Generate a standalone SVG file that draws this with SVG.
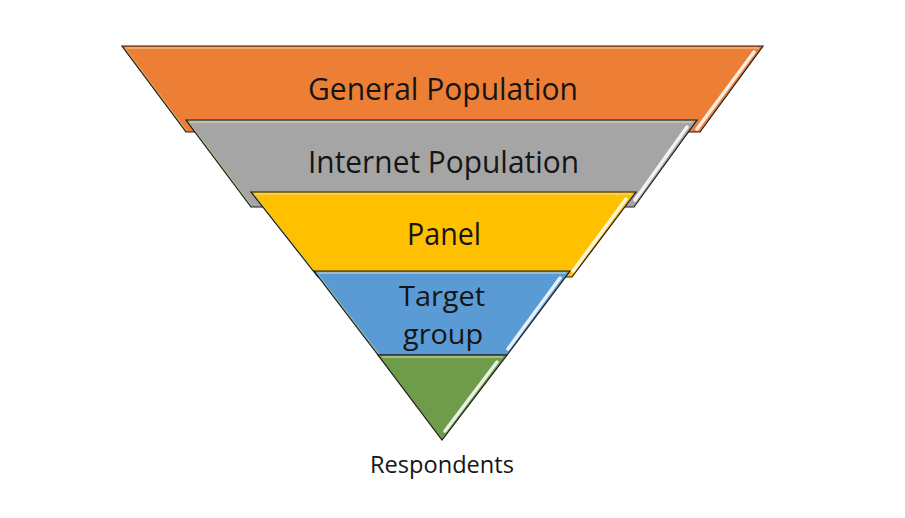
<svg xmlns="http://www.w3.org/2000/svg" width="905" height="518" viewBox="0 0 905 518">
  <style>
    .layer { stroke: #1c1c1c; stroke-width: 1.2; stroke-linejoin: miter; }
    .hl { fill: none; stroke: #ffffff; stroke-opacity: 0.85; stroke-width: 3.5; stroke-linecap: round; }
    .top { fill: none; stroke: #f3e3b8; stroke-opacity: 0.85; stroke-width: 1.2; }
    .lft { fill: none; stroke: #b9c96a; stroke-opacity: 0.7; stroke-width: 1; }
    .lbl { font-family: "Open Sans", "Liberation Sans", sans-serif; font-size: 31px; fill: #151515; text-anchor: middle; }
    .lbl2 { font-family: "Open Sans", "Liberation Sans", sans-serif; font-size: 28px; fill: #151515; text-anchor: middle; }
    .sub { font-family: "Open Sans", "Liberation Sans", sans-serif; font-size: 24px; fill: #151515; text-anchor: middle; }
  </style>
  <rect width="905" height="518" fill="#ffffff"/>

  <g id="layer-general">
    <polygon class="layer" fill="#EC7F35" points="122,46 763,46 700,132 186,132"/>
    <line class="top" x1="126" y1="48" x2="759" y2="48"/>
    <line class="lft" x1="125" y1="48" x2="187" y2="131"/>
    <line class="hl" x1="754" y1="52" x2="697" y2="129" stroke="#f2dcb8"/>
    <text class="lbl" x="443" y="100" textLength="270" lengthAdjust="spacingAndGlyphs">General Population</text>
  </g>

  <g id="layer-internet">
    <polygon class="layer" fill="#A5A5A5" points="186,120 697,120 634,207 251,207"/>
    <line class="top" x1="190" y1="122" x2="693" y2="122"/>
    <line class="lft" x1="189" y1="122" x2="252" y2="206"/>
    <line class="hl" x1="687" y1="127" x2="635" y2="200"/>
    <text class="lbl" x="443.5" y="173" textLength="271" lengthAdjust="spacingAndGlyphs">Internet Population</text>
  </g>

  <g id="layer-panel">
    <polygon class="layer" fill="#FFC000" points="251,192 636,192 572,277 318,277"/>
    <line class="top" x1="255" y1="194" x2="632" y2="194"/>
    <line class="lft" x1="254" y1="194" x2="319" y2="276"/>
    <line class="hl" x1="626" y1="199" x2="573" y2="271" stroke="#fbe7a8"/>
    <text class="lbl" x="444" y="245" textLength="74" lengthAdjust="spacingAndGlyphs">Panel</text>
  </g>

  <g id="layer-target">
    <polygon class="layer" fill="#5B9BD5" points="314,271 570,271 507,355 378,355"/>
    <line class="top" x1="318" y1="273" x2="566" y2="273"/>
    <line class="lft" x1="317" y1="273" x2="379" y2="354"/>
    <line class="hl" x1="560" y1="278" x2="508" y2="349"/>
    <text class="lbl2" x="442" y="306" textLength="86" lengthAdjust="spacingAndGlyphs">Target</text>
    <text class="lbl2" x="443" y="344" textLength="80" lengthAdjust="spacingAndGlyphs">group</text>
  </g>

  <g id="layer-respondents">
    <polygon class="layer" fill="#6E9C4A" points="378,355 507,355 442,440" stroke="#555"/>
    <line class="top" x1="382" y1="357" x2="503" y2="357" stroke="#c8d0a0"/>
    <line class="hl" x1="497" y1="362" x2="445" y2="431" stroke="#efe3c2"/>
  </g>

  <g id="connectors"></g>

  <text id="label-respondents" class="sub" x="442" y="473" textLength="144" lengthAdjust="spacingAndGlyphs">Respondents</text>
</svg>
